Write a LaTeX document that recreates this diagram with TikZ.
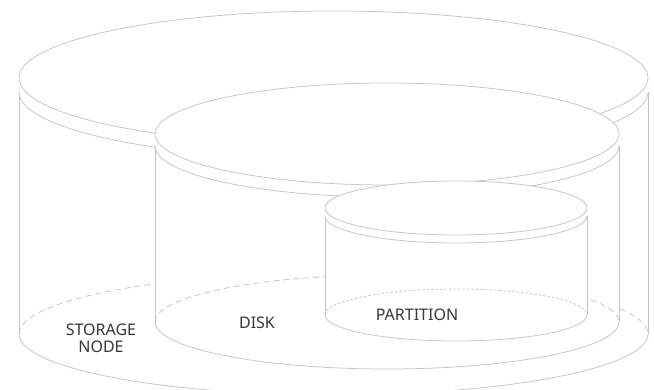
\documentclass[tikz,border=0pt]{standalone}
\usepackage{fontspec}
\setmainfont{Noto Sans}
\definecolor{linegray}{RGB}{196,196,196}
\definecolor{textgray}{RGB}{55,55,55}
\tikzset{
  rim/.style={draw=linegray, line width=0.75pt},
  backdash/.style={dash pattern=on 6pt off 4pt},
  backdot/.style={dash pattern=on 2.5pt off 2pt},
  label/.style={text=textgray, font=\fontsize{16}{17}\selectfont, align=center, inner sep=0pt},
}
% #1 cx, #2 Y of top ellipse centre, #3 rx, #4 ry top, #5 lid thickness,
% #6 Y of bottom ellipse centre, #7 ry bottom, #8 back arc style
\newcommand{\drawcyl}[8]{%
  \fill[white] (#1-#3,#2) -- (#1-#3,#6) arc[start angle=180,end angle=360,x radius=#3,y radius=#7] -- (#1+#3,#2) -- cycle;
  \draw[rim,#8] (#1-#3,#6) arc[start angle=180,end angle=0,x radius=#3,y radius=#7];
  \draw[rim] (#1-#3,#6) arc[start angle=180,end angle=360,x radius=#3,y radius=#7];
  \draw[rim] (#1-#3,#2-#5) -- (#1-#3,#6);
  \draw[rim] (#1+#3,#2-#5) -- (#1+#3,#6);
  \fill[white] (#1-#3,#2) -- (#1-#3,#2-#5) arc[start angle=180,end angle=360,x radius=#3,y radius=#4] -- (#1+#3,#2) -- cycle;
  \draw[rim] (#1-#3,#2-#5) arc[start angle=180,end angle=360,x radius=#3,y radius=#4];
  \draw[rim,fill=white] (#1,#2) ellipse[x radius=#3,y radius=#4];
}
\begin{document}
\begin{tikzpicture}[x=1pt,y=1pt]
  \fill[white] (0,0) rectangle (654,390);
  \useasboundingbox (0,0) rectangle (654,390);
  \clip (0,0) rectangle (654,390);
  % storage node
  \drawcyl{333.5}{312}{314.5}{67}{14}{56}{61}{backdash}
  % disk
  \drawcyl{387}{256}{232}{51}{12}{68}{47}{backdash}
  % partition
  \drawcyl{456}{182}{131}{27}{8}{75}{26}{backdot}
  \node[label] (storage) at (101,52) {STORAGE\\NODE};
  \node[label] (disk) at (257,67) {DISK};
  \node[label] (partition) at (417,75) {PARTITION};
\end{tikzpicture}
\end{document}
